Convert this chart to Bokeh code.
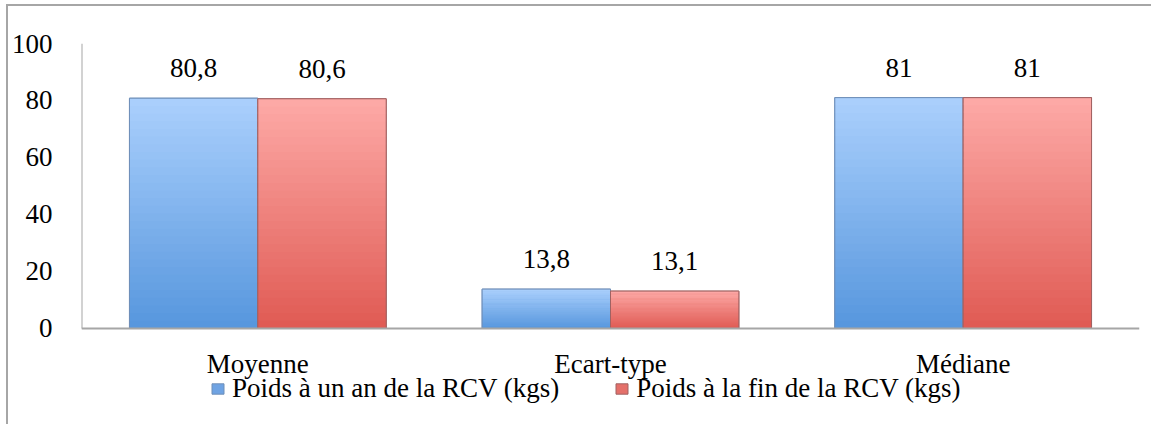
from bokeh.plotting import figure
from bokeh.models import (ColumnDataSource, FactorRange, Range1d, FixedTicker,
                          Legend, LegendItem, Span)
from bokeh.transform import dodge
from bokeh.core.properties import value
from bokeh.embed import file_html
from bokeh.resources import INLINE

categories = ["Moyenne", "Ecart-type", "Médiane"]
series_names = ["Poids à un an de la RCV (kgs)", "Poids à la fin de la RCV (kgs)"]
blue_values = [80.8, 13.8, 81]
red_values = [80.6, 13.1, 81]
y_ticks = [0, 20, 40, 60, 80, 100]

FONT = "Liberation Serif"
FS = "27px"
BAR_W = 0.364
OFFS = [-0.182, 0.182]
AXIS_C = "#a6a6a6"
# gradient colours (top, bottom, mid) per series
GRAD = [((0xAB, 0xD0, 0xFD), (0x56, 0x96, 0xDD), "#6fa3e3"),
        ((0xFD, 0xAA, 0xA7), (0xE0, 0x5A, 0x53), "#e4706a")]
EDGE = ["#6f8fb8", "#a06262"]
N = 30


def fmt(v):
    s = ("%g" % v)
    return s.replace(".", ",")


def hexc(c):
    return "#%02x%02x%02x" % tuple(int(round(x)) for x in c)


p = figure(width=1145, height=420, x_range=FactorRange(*categories, range_padding=0),
           y_range=Range1d(-30.2, 100), output_backend="svg", toolbar_location=None,
           min_border_left=73, min_border_right=14, min_border_top=37, min_border_bottom=12)
p.styles = {"border-left": "2px solid #a6a6a6", "border-top": "2px solid #a6a6a6",
            "margin-left": "6px", "margin-top": "4px"}
p.outline_line_color = None
p.xgrid.visible = False
p.ygrid.visible = False
p.background_fill_color = "white"
p.border_fill_color = "white"
p.xaxis.visible = False

# axis lines (x axis at value 0, y axis from 0 to 100)
p.add_layout(Span(location=0, dimension="width", line_color=AXIS_C, line_width=2))
p.segment(x0=[0], y0=[0], x1=[0], y1=[100], line_color=AXIS_C, line_width=2)

legend_items = []
for si, vals in enumerate([blue_values, red_values]):
    src = ColumnDataSource(dict(cat=categories, top=vals,
                                lab=[fmt(v) for v in vals]))
    xd = dodge("cat", OFFS[si], range=p.x_range)
    main = p.vbar(x=xd, top="top", bottom=0, width=BAR_W, source=src,
                  fill_color=GRAD[si][2], line_color=EDGE[si], line_width=1)
    legend_items.append(LegendItem(label=series_names[si], renderers=[main]))
    # vertical gradient as strips proportional to each bar's value
    cats, bots, tops, cols = [], [], [], []
    top_c, bot_c, _ = GRAD[si]
    for c, v in zip(categories, vals):
        for k in range(N):
            t = (k + 0.5) / N
            cats.append(c)
            bots.append(v * k / N)
            tops.append(min(v, v * (k + 1.3) / N))
            cols.append(hexc([bot_c[j] + (top_c[j] - bot_c[j]) * t for j in range(3)]))
    ssrc = ColumnDataSource(dict(cat=cats, bottom=bots, top=tops, color=cols))
    p.vbar(x=dodge("cat", OFFS[si], range=p.x_range), bottom="bottom", top="top",
           width=BAR_W, source=ssrc, fill_color="color", line_color=None)
    p.vbar(x=xd, top="top", bottom=0, width=BAR_W, source=src,
           fill_color=None, line_color=EDGE[si], line_width=1)
    p.text(x=xd, y="top", text="lab", source=src, text_align="center",
           text_baseline="middle", y_offset=-30, text_font=value(FONT),
           text_font_size=FS, text_color="black")

# category labels under the x axis line
csrc = ColumnDataSource(dict(cat=categories, y=[0] * len(categories)))
p.text(x="cat", y="y", text="cat", source=csrc, text_align="center",
       text_baseline="middle", y_offset=36, text_font=value(FONT),
       text_font_size=FS, text_color="black")

legend = Legend(items=legend_items, orientation="horizontal", location=(129, 10),
                glyph_width=15, glyph_height=13, label_standoff=7, spacing=55,
                padding=0, margin=0, border_line_color=None, background_fill_alpha=0,
                label_text_font=FONT, label_text_font_size=FS, label_text_color="black",
                label_height=26)
p.add_layout(legend, "center")

ax = p.yaxis[0]
ax.axis_line_color = None
ax.major_tick_line_color = None
ax.minor_tick_line_color = None
ax.major_label_text_font = FONT
ax.major_label_text_font_size = FS
ax.major_label_text_color = "black"
ax.ticker = FixedTicker(ticks=y_ticks)
ax.major_label_standoff = 23

open("out.html", "w").write(file_html(p, INLINE))
